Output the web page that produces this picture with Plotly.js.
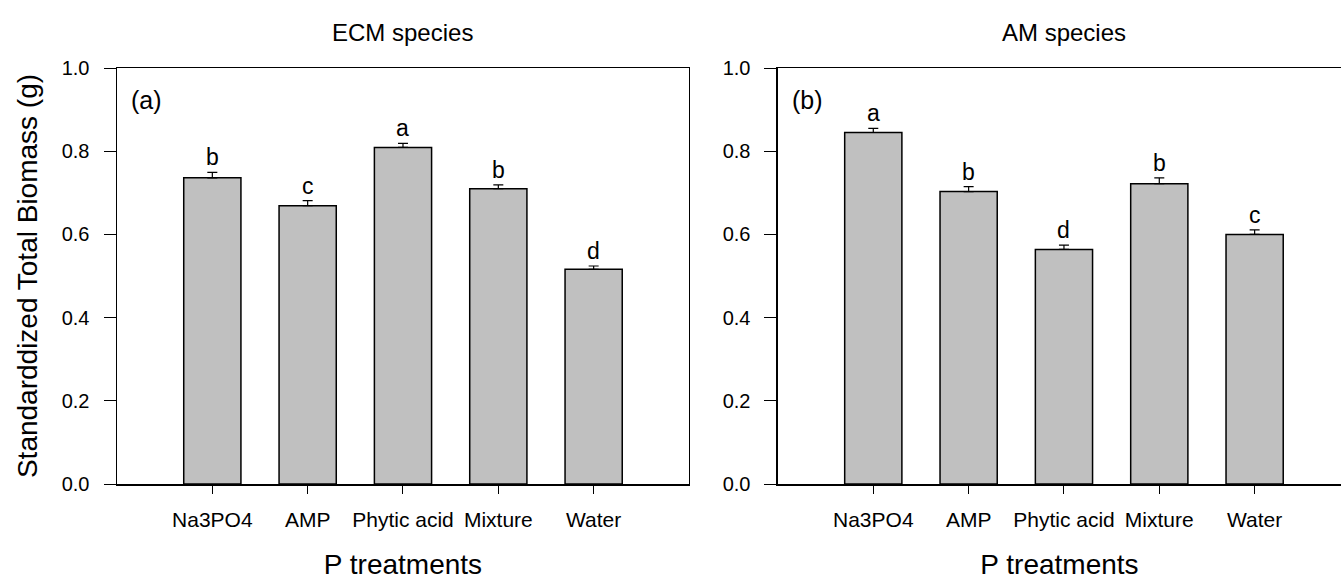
<!DOCTYPE html>
<html>
<head>
<meta charset="utf-8">
<script src="https://cdn.plot.ly/plotly-3.0.1.min.js"></script>
<style>html,body{margin:0;padding:0;background:#fff;}#chart{width:1341px;height:583px;}</style>
</head>
<body>
<div id="chart"></div>
<script>
var categories = ["Na3PO4", "AMP", "Phytic acid", "Mixture", "Water"];
var ecmValues = [0.736, 0.669, 0.809, 0.710, 0.516];
var ecmErrors = [0.013, 0.012, 0.010, 0.009, 0.008];
var ecmLetters = ["b", "c", "a", "b", "d"];
var amValues = [0.845, 0.703, 0.564, 0.722, 0.600];
var amErrors = [0.010, 0.012, 0.010, 0.014, 0.011];
var amLetters = ["a", "b", "d", "b", "c"];
var yTickVals = [0, 0.2, 0.4, 0.6, 0.8, 1.0];
var yTickText = ["0.0", "0.2", "0.4", "0.6", "0.8", "1.0"];
var panelTitles = ["ECM species", "AM species"];
var panelLabels = ["(a)", "(b)"];

var FONT = "Liberation Sans, Arial, sans-serif";
var idx = categories.map(function (c, i) { return i; });

function barTrace(vals, errs, xa, ya) {
  return {
    type: "bar", x: idx, y: vals, xaxis: xa, yaxis: ya, width: 0.6,
    marker: {color: "#c0c0c0", line: {color: "#000", width: 1.5}},
    error_y: {type: "data", array: errs, symmetric: false, arrayminus: errs.map(function(){return 0;}),
              color: "#000", thickness: 1.2, width: 5},
    showlegend: false, hoverinfo: "y"
  };
}

var data = [barTrace(ecmValues, ecmErrors, "x", "y"), barTrace(amValues, amErrors, "x2", "y2")];

var annotations = [];
function addLetters(vals, errs, letters, xr, yr) {
  letters.forEach(function (l, i) {
    annotations.push({xref: xr, yref: yr, x: i, y: vals[i] + errs[i], text: l, showarrow: false,
      yanchor: "bottom", yshift: 0, font: {family: FONT, size: 23, color: "#000"}});
  });
}
addLetters(ecmValues, ecmErrors, ecmLetters, "x", "y");
addLetters(amValues, amErrors, amLetters, "x2", "y2");
[["x", "y"], ["x2", "y2"]].forEach(function (r, k) {
  annotations.push({xref: r[0], yref: "paper", x: 2, y: 1, yanchor: "bottom", yshift: 20, text: panelTitles[k],
    showarrow: false, font: {family: FONT, size: 24, color: "#000"}});
  annotations.push({xref: r[0], yref: r[1], x: -1, y: 0.923, xanchor: "left", xshift: 12, yanchor: "middle",
    text: panelLabels[k], showarrow: false, font: {family: FONT, size: 25, color: "#000"}});
});

function xAxis(domain, range, anchor) {
  return {domain: domain, range: range, anchor: anchor, tickmode: "array", tickvals: idx, ticktext: categories,
    ticks: "outside", ticklen: 8, tickwidth: 1, tickcolor: "#000", showline: true, linecolor: "#000", linewidth: 1.5,
    mirror: true, showgrid: false, zeroline: false, fixedrange: true, ticklabelstandoff: 8,
    tickfont: {family: FONT, size: 21, color: "#000"},
    title: {text: "P treatments", font: {family: FONT, size: 28, color: "#000"}, standoff: 24}};
}
function yAxis(anchor, mirror, withTitle) {
  var a = {range: [0, 1], anchor: anchor, tickmode: "array", tickvals: yTickVals, ticktext: yTickText,
    ticks: "outside", ticklen: 12, tickwidth: 1, tickcolor: "#000", showline: true, linecolor: "#000", linewidth: 1.5,
    mirror: mirror, showgrid: false, zeroline: false, fixedrange: true, ticklabelstandoff: 10,
    tickfont: {family: FONT, size: 20, color: "#000"}};
  if (withTitle) a.title = {text: "Standarddized Total Biomass (g)", font: {family: FONT, size: 28, color: "#000"}, standoff: 16};
  return a;
}

var layout = {
  width: 1341, height: 583,
  margin: {l: 117, r: 0, t: 68, b: 99},
  paper_bgcolor: "#fff", plot_bgcolor: "#fff",
  xaxis: xAxis([0, 0.4673], [-1, 5], "y"),
  yaxis: yAxis("x", true, true),
  xaxis2: xAxis([0.5400, 1], [-1, 4.906], "y2"),
  yaxis2: yAxis("x2", false, false),
  annotations: annotations,
  bargap: 0.4
};

Plotly.newPlot("chart", data, layout, {displayModeBar: false, staticPlot: true});
</script>
</body>
</html>
